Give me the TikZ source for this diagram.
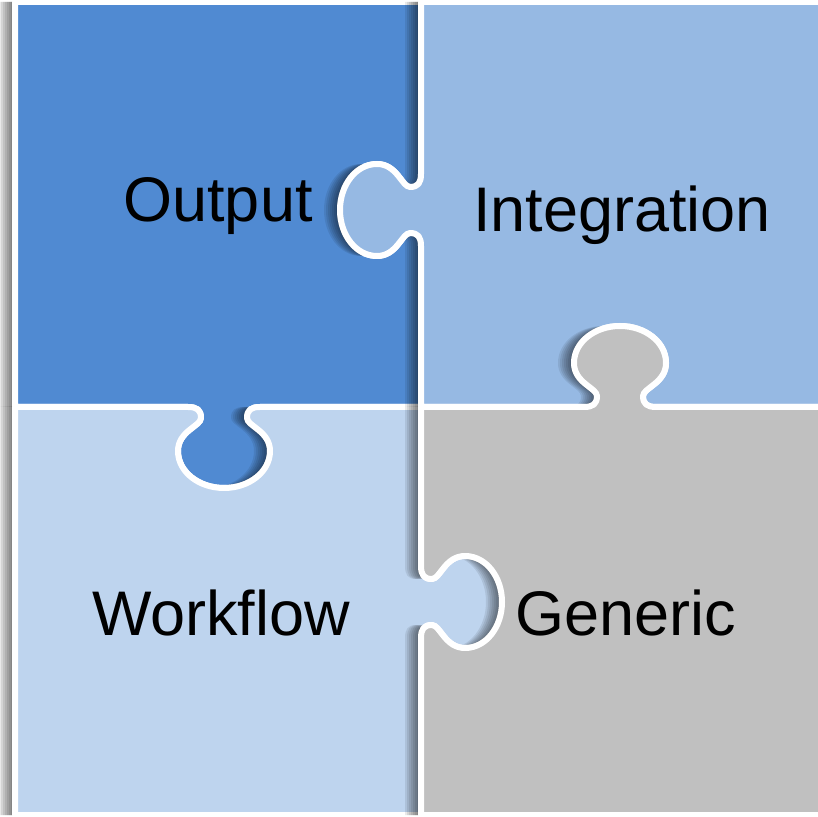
\documentclass[tikz,border=0pt]{standalone}
\usepackage{fontspec}
\setmainfont{Liberation Sans}
\definecolor{outblue}{HTML}{508AD2}
\definecolor{intblue}{HTML}{96B9E3}
\definecolor{wfblue}{HTML}{BED4EE}
\definecolor{gengray}{HTML}{C0C0C0}
\tikzset{kn/.style n args={3}{shift={#1},rotate=#2,xscale=#3}}
% one knob: base point, angle, direction (1 or -1)
\newcommand{\knob}[3]{%
  -- ([kn={#1}{#2}{#3}]-36,0)
  .. controls ([kn={#1}{#2}{#3}]-27,0) and ([kn={#1}{#2}{#3}]-23,3) .. ([kn={#1}{#2}{#3}]-23,11)
  .. controls ([kn={#1}{#2}{#3}]-23,19) and ([kn={#1}{#2}{#3}]-46,24) .. ([kn={#1}{#2}{#3}]-46,44)
  .. controls ([kn={#1}{#2}{#3}]-46,65) and ([kn={#1}{#2}{#3}]-25,81) .. ([kn={#1}{#2}{#3}]0,81)
  .. controls ([kn={#1}{#2}{#3}]25,81) and ([kn={#1}{#2}{#3}]46,65) .. ([kn={#1}{#2}{#3}]46,44)
  .. controls ([kn={#1}{#2}{#3}]46,24) and ([kn={#1}{#2}{#3}]23,19) .. ([kn={#1}{#2}{#3}]23,11)
  .. controls ([kn={#1}{#2}{#3}]23,3) and ([kn={#1}{#2}{#3}]27,0) .. ([kn={#1}{#2}{#3}]36,0)}
\newcommand{\pieceoutput}{(15,814) -- (421,814) \knob{(421,606)}{90}{-1} -- (421,409) \knob{(224,409)}{180}{1} -- (15,409) -- cycle}
\newcommand{\pieceworkflow}{(15,409) \knob{(224,409)}{180}{-1} -- (421,409) \knob{(421,214)}{-90}{1} -- (421,1) -- (15,1) -- cycle}
\newcommand{\pieceintegration}{(421,814) -- (824,814) -- (824,409) \knob{(620,409)}{0}{-1} -- (421,409) \knob{(421,606)}{90}{1} -- cycle}
\newcommand{\piecegeneric}{(421,409) \knob{(620,409)}{0}{1} -- (824,409) -- (824,1) -- (421,1) \knob{(421,214)}{-90}{-1} -- cycle}
\begin{document}
\begin{tikzpicture}[x=1pt,y=1pt,
    piece/.style={draw=white, line width=6pt, line join=round},
    word/.style={anchor=base, font=\fontsize{63}{70}\selectfont}]
    \useasboundingbox (0,0) rectangle (818,816);
    \fill[white] (0,0) rectangle (818,816);

    % each piece: soft shadow to the left, then the piece
    \foreach \s in {4,6,...,16} \fill[black, opacity=0.085, xshift=-\s pt] \pieceoutput;
    \path[fill=outblue, piece] \pieceoutput;
    \foreach \s in {4,6,...,16} \fill[black, opacity=0.085, xshift=-\s pt] \pieceworkflow;
    \path[fill=wfblue, piece] \pieceworkflow;
    \foreach \s in {4,6,...,16} \fill[black, opacity=0.085, xshift=-\s pt] \pieceintegration;
    \path[fill=intblue, piece] \pieceintegration;
    \foreach \s in {4,6,...,16} \fill[black, opacity=0.085, xshift=-\s pt] \piecegeneric;
    \path[fill=gengray, piece] \piecegeneric;

    \node[word] (output) at (218,594) {Output};
    \node[word] (integration) at (622,584) {Integration};
    \node[word] (workflow) at (221,180) {Workflow};
    \node[word] (generic) at (626,180) {Generic};
\end{tikzpicture}
\end{document}
